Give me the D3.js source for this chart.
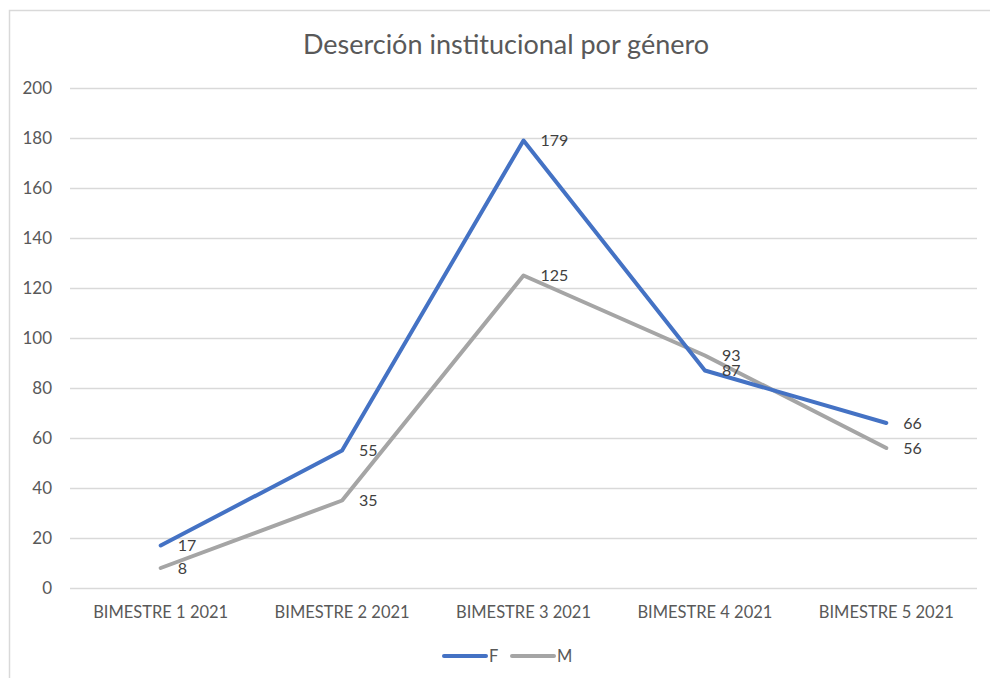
<!DOCTYPE html>
<html><head><meta charset="utf-8">
<script src="https://cdn.jsdelivr.net/npm/d3@7/dist/d3.min.js"></script>
<style>body{margin:0;background:#fff}text{font-family:Lato,"Open Sans",sans-serif}</style>
</head><body>
<svg id="c" width="990" height="678"></svg>
<script>
const categories = ["BIMESTRE 1 2021","BIMESTRE 2 2021","BIMESTRE 3 2021","BIMESTRE 4 2021","BIMESTRE 5 2021"];
const seriesF = [17, 55, 179, 87, 66];
const seriesM = [8, 35, 125, 93, 56];
const yTicks = [0,20,40,60,80,100,120,140,160,180,200];
const title = "Deserción institucional por género";

const svg = d3.select("#c");
const textColor = "#595959";
svg.append("rect").attr("x",9.5).attr("y",10.5).attr("width",1010).attr("height",700)
  .attr("fill","#fff").attr("stroke","#d9d9d9").attr("stroke-width",1.5);

const x = d3.scaleBand().domain(categories).range([70,977]);
const y = d3.scaleLinear().domain([0,200]).range([588,88]);

svg.append("g").selectAll("line").data(yTicks).join("line")
  .attr("x1",70).attr("x2",977).attr("y1",d=>y(d)+0.5).attr("y2",d=>y(d)+0.5)
  .attr("stroke","#d9d9d9").attr("stroke-width",1.3);

const yAxis = d3.axisLeft(y).tickValues(yTicks).tickSize(0).tickPadding(0);
const gy = svg.append("g").attr("transform","translate(52,0)").call(yAxis);
gy.select(".domain").remove();
gy.selectAll("text").attr("fill",textColor).style("font-size","17px").style("font-family","Lato");

const xAxis = d3.axisBottom(x).tickSize(0).tickPadding(0);
const gx = svg.append("g").attr("transform","translate(0,606)").call(xAxis);
gx.select(".domain").remove();
gx.selectAll("text").attr("fill",textColor).style("font-size","16.5px").style("font-family","Lato");

const cx = d => x(d) + x.bandwidth()/2;
const line = d3.line().x((d,i)=>cx(categories[i])).y(d=>y(d));

const series = [{name:"F", values:seriesF, color:"#4472C4"},{name:"M", values:seriesM, color:"#A5A5A5"}];
series.slice().reverse().forEach(s=>{
  svg.append("path").datum(s.values).attr("d",line).attr("fill","none")
    .attr("stroke",s.color).attr("stroke-width",4).attr("stroke-linejoin","round").attr("stroke-linecap","round");
});

series.forEach(s=>{
  svg.append("g").selectAll("text").data(s.values).join("text")
    .attr("x",(d,i)=>cx(categories[i])+17).attr("y",d=>y(d))
    .attr("dy","0.36em").attr("fill","#404040").style("font-size","16px").text(d=>d);
});

svg.append("text").attr("x",506).attr("y",54).attr("text-anchor","middle")
  .attr("fill",textColor).style("font-size","27px").text(title);

const lg = svg.append("g");
const legendItems = [{x1:444,x2:486,tx:489},{x1:512,x2:554,tx:557}];
legendItems.forEach((it,i)=>{
  lg.append("line").attr("x1",it.x1).attr("x2",it.x2).attr("y1",656).attr("y2",656)
    .attr("stroke",series[i].color).attr("stroke-width",4).attr("stroke-linecap","round");
  lg.append("text").attr("x",it.tx).attr("y",656).attr("dy","0.36em").attr("fill",textColor)
    .style("font-size","16.5px").text(series[i].name);
});
</script>
</body></html>
